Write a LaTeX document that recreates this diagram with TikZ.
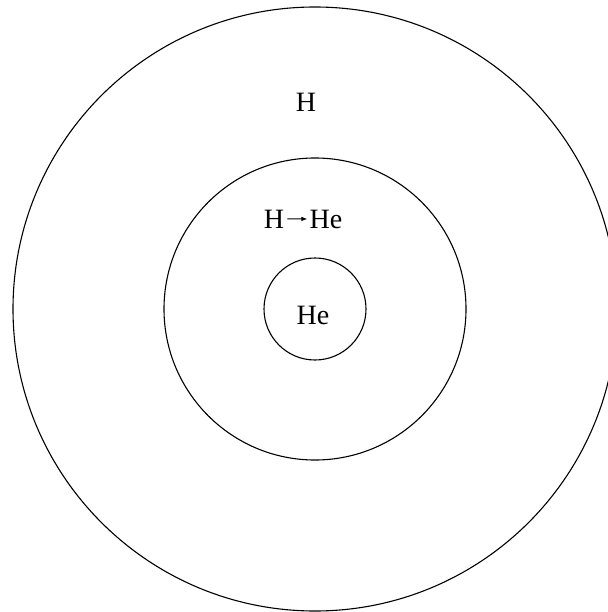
\documentclass[tikz,border=0pt]{standalone}
\usepackage{fontspec}
\setmainfont{Liberation Serif}
\usetikzlibrary{arrows.meta}
\begin{document}
\begin{tikzpicture}[x=1pt,y=-1pt,
  ring/.style={draw, circle, line width=1.1pt, inner sep=0pt},
  lbl/.style={font=\fontsize{28}{32}\selectfont, inner sep=0pt},
  conv/.style={line width=1pt, -{Latex[length=6pt,width=4.5pt]}}]
\useasboundingbox (0,0) rectangle (607,612);
\node[ring, minimum size=604pt] (outer) at (315,309) {};
\node[ring, minimum size=302pt] (middle) at (315,309) {};
\node[ring, minimum size=102pt] (inner) at (315,309) {};
\node[lbl] (h) at (306,102) {H};
\node[lbl, anchor=base] (h2) at (274,228) {H};
\node[lbl, anchor=base] (he2) at (326,228) {He};
\draw[conv] ([xshift=3pt]h2.east) -- ([xshift=-2pt]he2.west);
\node[lbl] (he) at (313,315) {He};
\end{tikzpicture}
\end{document}
